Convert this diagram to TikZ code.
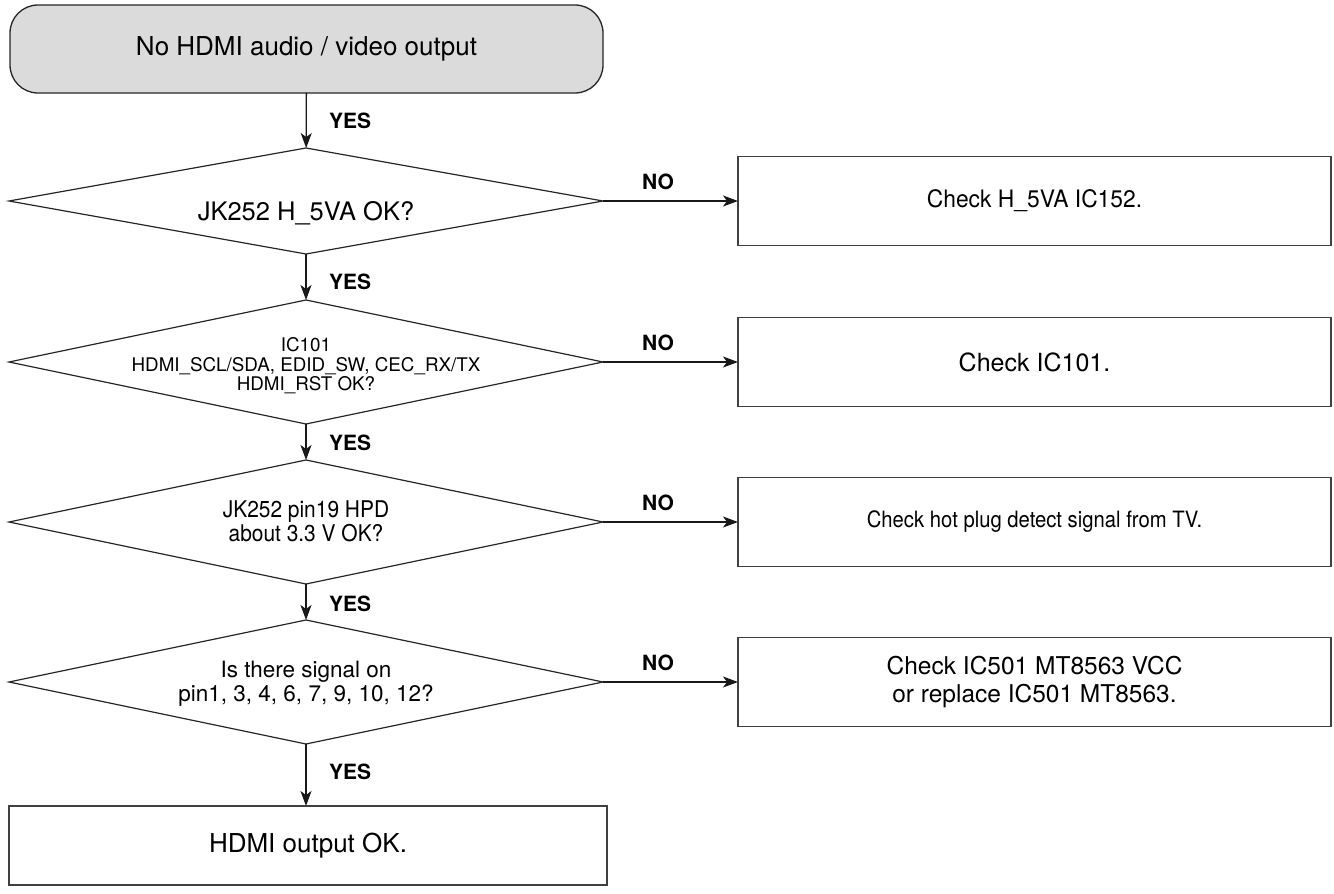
\documentclass[tikz,border=0pt]{standalone}
\usepackage{graphicx}
\usepackage{fontspec}
\setmainfont{TeX Gyre Heros}
\usetikzlibrary{shapes.geometric,arrows.meta}
\newcommand{\fs}[1]{\fontsize{#1}{#1}\selectfont}
\newcommand{\hs}[2]{\scalebox{#1}[1]{#2}}
% size, baselineskip, downward shift, lines
\newcommand{\dtext}[4]{\smash{\raisebox{-#3}{\makebox[0pt]{\fontsize{#1}{#2}\selectfont\begin{tabular}{@{}c@{}}#4\end{tabular}}}}}
\begin{document}
\begin{tikzpicture}[x=1pt,y=-1pt,
  every node/.style={inner sep=0pt, outer sep=0pt, align=center},
  startbox/.style={draw=black!85, fill=black!14, line width=1.3pt, rounded corners=28pt,
    minimum width=593pt, minimum height=88pt},
  decision/.style={draw=black!85, line width=1.2pt, diamond, aspect=5.6,
    minimum width=594pt},
  actbox/.style={draw=black!75, line width=1.3pt, rectangle,
    minimum width=593pt, minimum height=89pt},
  flow/.style={-{Stealth[length=15pt,width=11pt,inset=4pt]}, line width=1.3pt, black!90},
  yeslbl/.style={font=\bfseries\fontsize{21}{24}\selectfont, anchor=west},
  nolbl/.style={font=\bfseries\fontsize{21}{24}\selectfont},
]
\useasboundingbox (0,0) rectangle (1334,894);

\node[startbox, font=\fs{26}] (start) at (306.5,49) {No HDMI audio / video output};

\node[decision, minimum height=106pt] (d1) at (306,201) {\dtext{25.5}{25.5}{20pt}{JK252 H\_5VA OK?}};
\node[decision, minimum height=124pt] (d2) at (306,362) {\dtext{18.8}{18}{9pt}{IC101\\HDMI\_SCL/SDA, EDID\_SW, CEC\_RX/TX\\HDMI\_RST OK?}};
\node[decision, minimum height=124pt] (d3) at (306,522) {\dtext{23}{22.5}{9pt}{\hs{0.91}{JK252 pin19 HPD}\\\hs{0.91}{about 3.3 V OK?}}};
\node[decision, minimum height=124pt] (d4) at (306,682) {\dtext{22.5}{23}{8pt}{Is there signal on\\pin1, 3, 4, 6, 7, 9, 10, 12?}};

\node[actbox, font=\fs{24}] (b1) at (1034.5,201) {\hs{0.95}{Check H\_5VA IC152.}};
\node[actbox, font=\fs{25}] (b2) at (1034.5,362) {Check IC101.};
\node[actbox, font=\fs{22.5}] (b3) at (1034.5,522) {\hs{0.9}{Check hot plug detect signal from TV.}};
\node[actbox, font=\fontsize{24.5}{27.5}\selectfont] (b4) at (1034.5,682) {Check IC501 MT8563 VCC\\or replace IC501 MT8563.};

\node[actbox, minimum width=598pt, minimum height=79pt, font=\fs{26}] (end) at (308,845.5) {HDMI output OK.};

\draw[flow] (start) -- (d1);
\draw[flow] (d1) -- (d2);
\draw[flow] (d2) -- (d3);
\draw[flow] (d3) -- (d4);
\draw[flow] (d4.south) -- (d4.south |- end.north);

\draw[flow] (d1) -- (b1);
\draw[flow] (d2) -- (b2);
\draw[flow] (d3) -- (b3);
\draw[flow] (d4) -- (b4);

\node[yeslbl] (y1) at (329,121) {YES};
\node[yeslbl] (y2) at (329,282) {YES};
\node[yeslbl] (y3) at (329,443) {YES};
\node[yeslbl] (y4) at (329,604) {YES};
\node[yeslbl] (y5) at (329,772) {YES};

\node[nolbl] (n1) at (658,182) {NO};
\node[nolbl] (n2) at (658,343) {NO};
\node[nolbl] (n3) at (658,503) {NO};
\node[nolbl] (n4) at (658,663) {NO};
\end{tikzpicture}
\end{document}
